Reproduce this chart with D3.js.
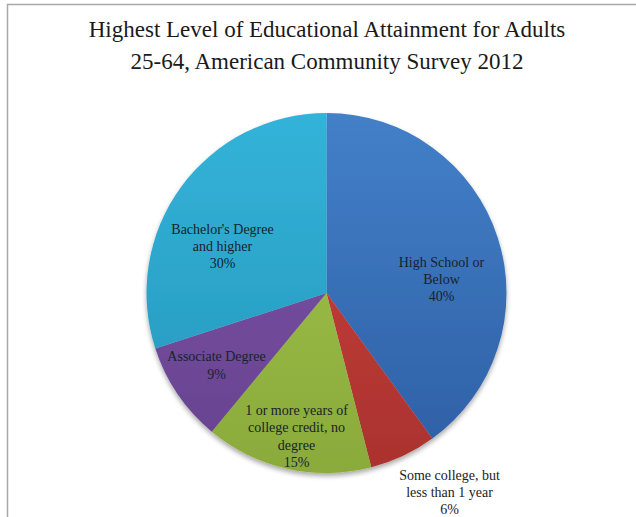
<!DOCTYPE html>
<html>
<head>
<meta charset="utf-8">
<script src="https://cdn.jsdelivr.net/npm/d3@7"></script>
<style>
  html, body { margin: 0; padding: 0; background: #ffffff; }
  svg { display: block; }
</style>
</head>
<body>
<script>
// ---- Data ----
const categories = [
  "High School or Below",
  "Some college, but less than 1 year",
  "1 or more years of college credit, no degree",
  "Associate Degree",
  "Bachelor's Degree and higher"
];
const values = [40, 6, 15, 9, 30];
const labelLines = [
  ["High School or", "Below"],
  ["Some college, but", "less than 1 year"],
  ["1 or more years of", "college credit, no", "degree"],
  ["Associate Degree"],
  ["Bachelor's Degree", "and higher"]
];
const titleLines = [
  "Highest Level of Educational Attainment for Adults",
  "25-64, American Community Survey 2012"
];

// ---- Layout / style ----
const W = 636, H = 517;
const cx = 326.5, cy = 293, R = 180;
const colorTop = ["#4380c8", "#cc433e", "#a3c64c", "#7f56aa", "#33b3d9"];
const colorBot = ["#2d5ea4", "#aa322e", "#8aaa3b", "#66418e", "#2695ba"];
// label centers relative to pie center (dx, dy of the text block middle)
const labelOffsets = [[115, -14], [123, 199], [-30, 143], [-110, 72], [-104, -47]];
const lineH = 17.3;

const svg = d3.select("body").append("svg").attr("width", W).attr("height", H);

// frame
svg.append("path")
  .attr("d", `M7.5,${H} L7.5,4.5 L${W},4.5`)
  .attr("fill", "none").attr("stroke", "#a8a8a8").attr("stroke-width", 1.5);

const defs = svg.append("defs");
colorTop.forEach((c, i) => {
  const g = defs.append("linearGradient")
    .attr("id", "g" + i).attr("gradientUnits", "userSpaceOnUse")
    .attr("x1", 0).attr("y1", -R).attr("x2", 0).attr("y2", R);
  g.append("stop").attr("offset", "0%").attr("stop-color", c);
  g.append("stop").attr("offset", "100%").attr("stop-color", colorBot[i]);
});
const f = defs.append("filter").attr("id", "sh").attr("x", "-20%").attr("y", "-20%").attr("width", "140%").attr("height", "140%");
f.append("feGaussianBlur").attr("in", "SourceAlpha").attr("stdDeviation", 2.5).attr("result", "b");
f.append("feOffset").attr("in", "b").attr("dy", 3).attr("result", "o");
f.append("feComponentTransfer").attr("in", "o").attr("result", "o2")
  .append("feFuncA").attr("type", "linear").attr("slope", 0.35);
const m = f.append("feMerge");
m.append("feMergeNode").attr("in", "o2");
m.append("feMergeNode").attr("in", "SourceGraphic");

// title
const title = svg.append("text")
  .attr("x", 327).attr("text-anchor", "middle")
  .attr("font-family", "'Liberation Serif', 'Times New Roman', serif")
  .attr("font-size", 23).attr("fill", "#1a1a1a");
titleLines.forEach((t, i) => {
  title.append("tspan").attr("x", 327).attr("y", 37 + i * 32).text(t);
});

// pie
const pie = d3.pie().value(d => d).sort(null);
const arcs = pie(values);
const arc = d3.arc().innerRadius(0).outerRadius(R);

const g = svg.append("g").attr("transform", `translate(${cx},${cy})`);
g.append("g").attr("filter", "url(#sh)")
  .selectAll("path").data(arcs).join("path")
  .attr("d", arc)
  .attr("fill", (d, i) => `url(#g${i})`)
  .attr("stroke", "none");

// labels
const total = d3.sum(values);
arcs.forEach((d, i) => {
  const lines = labelLines[i].concat([Math.round(d.value / total * 100) + "%"]);
  const [dx, dy] = labelOffsets[i];
  const y0 = dy - (lines.length - 1) * lineH / 2;
  const t = g.append("text")
    .attr("text-anchor", "middle")
    .attr("font-family", "'Liberation Serif', 'Times New Roman', serif")
    .attr("font-size", 14).attr("fill", i === 1 ? "#222222" : "#17232b");
  lines.forEach((ln, k) => {
    t.append("tspan").attr("x", dx).attr("y", y0 + k * lineH).attr("dy", "0.35em").text(ln);
  });
});
</script>
</body>
</html>
